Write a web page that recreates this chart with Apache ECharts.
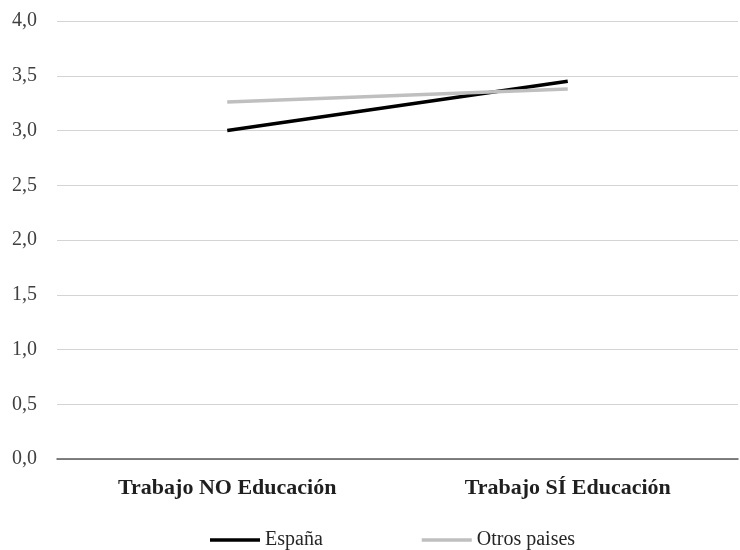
<!DOCTYPE html>
<html>
<head>
<meta charset="utf-8">
<script src="https://cdn.jsdelivr.net/npm/echarts@6/dist/echarts.min.js"></script>
<style>html,body{margin:0;padding:0;background:#fff}#c{width:740px;height:550px}</style>
</head>
<body>
<div id="c"></div>
<script>
var categories = ["Trabajo NO Educación", "Trabajo SÍ Educación"];
var espana = [3.00, 3.45];
var otros = [3.26, 3.38];
var seriesNames = ["España", "Otros paises"];

var chart = echarts.init(document.getElementById('c'), null, {renderer: 'canvas'});
var font = '"Liberation Serif", "Times New Roman", serif';
chart.setOption({
  animation: false,
  backgroundColor: '#fff',
  grid: {left: 57, right: 2, top: 21, bottom: 91},
  legend: {
    data: [
      {name: seriesNames[0], icon: 'rect', itemStyle: {color: '#000'}},
      {name: seriesNames[1], icon: 'rect', itemStyle: {color: '#bfbfbf'}}
    ],
    left: 205, top: 524,
    itemWidth: 50, itemHeight: 3.5, itemGap: 99,
    textStyle: {fontFamily: font, fontSize: 20, color: '#262626', lineHeight: 22}
  },
  xAxis: {
    type: 'category',
    data: categories,
    boundaryGap: true,
    axisLine: {lineStyle: {color: '#595959', width: 1.5}},
    axisTick: {show: false},
    axisLabel: {fontFamily: font, fontSize: 22, fontWeight: 'bold', color: '#1f1f1f', margin: 18}
  },
  yAxis: {
    type: 'value', min: 0, max: 4, interval: 0.5,
    axisLine: {show: false}, axisTick: {show: false},
    splitLine: {lineStyle: {color: '#d4d4d4', width: 1.2}},
    axisLabel: {fontFamily: font, fontSize: 20, color: '#404040', margin: 20,
      formatter: function(v){ return v.toFixed(1).replace('.', ','); }}
  },
  series: [
    {name: seriesNames[0], type: 'line', data: espana, symbol: 'none',
     lineStyle: {color: '#000', width: 3.5, cap: 'butt'}, itemStyle: {color: '#000'}},
    {name: seriesNames[1], type: 'line', data: otros, symbol: 'none',
     lineStyle: {color: '#bfbfbf', width: 3.5, cap: 'butt'}, itemStyle: {color: '#bfbfbf'}}
  ]
});
</script>
</body>
</html>
